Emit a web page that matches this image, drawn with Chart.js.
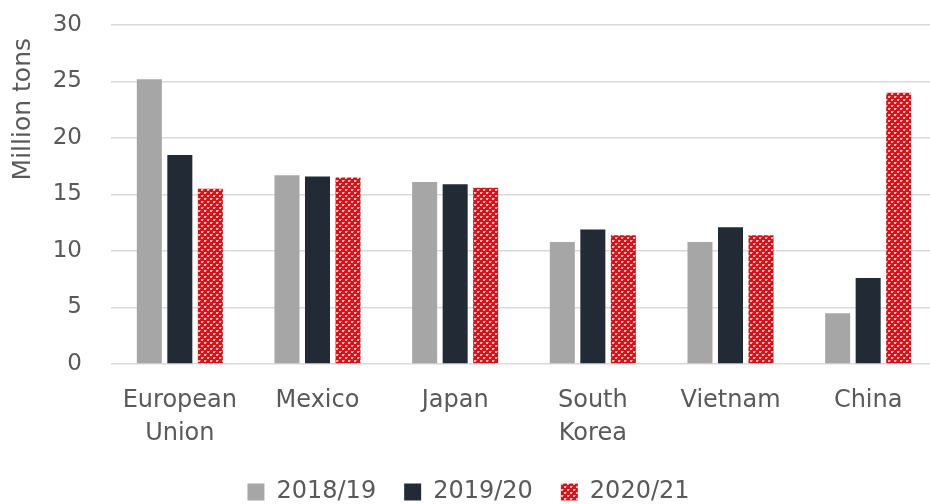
<!DOCTYPE html>
<html>
<head>
<meta charset="utf-8">
<script src="https://cdn.jsdelivr.net/npm/chart.js@4/dist/chart.umd.min.js"></script>
<style>
  html, body { margin: 0; padding: 0; background: #fff; overflow: hidden; }
  #chart { display: block; }
</style>
</head>
<body>
<canvas id="chart" width="937" height="514"></canvas>
<script>
// ---- Data ---------------------------------------------------------------

const CATEGORIES = [['European', 'Union'], 'Mexico', 'Japan', ['South', 'Korea'], 'Vietnam', 'China'];
const SERIES_LABELS = ['2018/19', '2019/20', '2020/21'];
const VALUES_2018 = [25.2, 16.7, 16.1, 10.8, 10.8, 4.5];
const VALUES_2019 = [18.5, 16.6, 15.9, 11.9, 12.1, 7.6];
const VALUES_2020 = [15.5, 16.5, 15.6, 11.4, 11.4, 24.0];
const Y_TICKS = [0, 5, 10, 15, 20, 25, 30];
const Y_TITLE = 'Million tons';

const TEXT = '#595959';
const FONT = 'DejaVu Sans';

// red fill with a light dotted lattice, like the office-style pattern fill
function makePattern() {
    const c = document.createElement('canvas');
    c.width = 6;
    c.height = 6;
    const g = c.getContext('2d');
    g.fillStyle = '#d6121a';
    g.fillRect(0, 0, 6, 6);
    g.fillStyle = '#f3b3b3';
    g.fillRect(0, 0, 2, 2);
    g.fillRect(3, 3, 2, 2);
    g.fillStyle = '#e97070';
    g.fillRect(2, 0, 1, 1);
    g.fillRect(5, 3, 1, 1);
    return g.createPattern(c, 'repeat');
}

// axis title sits a little below the top of the plot, not flush with it
const yTitlePlugin = {
    id: 'yTitle',
    afterDraw(chart) {
        const { ctx, chartArea } = chart;
        ctx.save();
        ctx.translate(23, chartArea.top + 13);
        ctx.rotate(-Math.PI / 2);
        ctx.font = `25px "${FONT}"`;
        ctx.fillStyle = TEXT;
        ctx.textAlign = 'right';
        ctx.textBaseline = 'middle';
        ctx.fillText(Y_TITLE, 0, 0);
        ctx.restore();
    },
};

const ctx = document.getElementById('chart').getContext('2d');
const redPattern = makePattern();

new Chart(ctx, {
    type: 'bar',
    data: {
        labels: CATEGORIES,
        datasets: [
            { label: SERIES_LABELS[0], data: VALUES_2018, backgroundColor: '#a6a6a6' },
            { label: SERIES_LABELS[1], data: VALUES_2019, backgroundColor: '#222a35' },
            { label: SERIES_LABELS[2], data: VALUES_2020, backgroundColor: redPattern },
        ],
    },
    plugins: [yTitlePlugin],
    options: {
        responsive: false,
        devicePixelRatio: 1,
        animation: false,
        layout: { padding: { top: 25, right: 0, left: 0, bottom: 0 } },
        datasets: {
            bar: { categoryPercentage: 0.665, barPercentage: 0.82, borderWidth: 0 },
        },
        plugins: {
            tooltip: { enabled: false },
            legend: {
                position: 'bottom',
                labels: {
                    color: TEXT,
                    font: { family: FONT, size: 24 },
                    boxWidth: 17,
                    boxHeight: 17,
                    padding: 28,
                },
            },
        },
        scales: {
            x: {
                grid: { display: false },
                border: { display: false },
                ticks: {
                    color: TEXT,
                    font: { family: FONT, size: 24, lineHeight: 1.38 },
                    padding: 12,
                    maxRotation: 0,
                    autoSkip: false,
                },
                afterFit: (scale) => { scale.height = 88; },
            },
            y: {
                min: 0,
                max: 30,
                afterBuildTicks: (scale) => { scale.ticks = Y_TICKS.map(v => ({ value: v })); },
                grid: { color: '#d9d9d9', lineWidth: 1.5, drawTicks: false },
                border: { display: false },
                ticks: {
                    color: TEXT,
                    font: { family: FONT, size: 23 },
                    padding: 29,
                },
                afterFit: (scale) => {
                    scale.width = 111;
                    // tick padding would otherwise push the plot top down
                    scale.paddingTop = 0;
                    scale.paddingBottom = 0;
                },
            },
        },
    },
});
</script>
</body>
</html>
